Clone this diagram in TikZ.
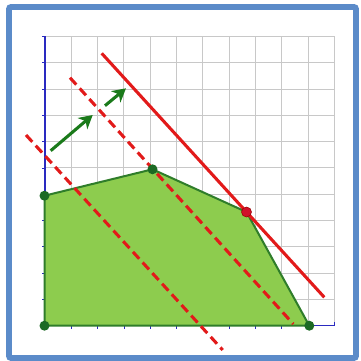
\documentclass[tikz,border=0pt]{standalone}
\usetikzlibrary{arrows.meta}
\definecolor{framebl}{HTML}{5B8BC9}
\definecolor{gridgr}{HTML}{C8C8C8}
\definecolor{axisbl}{HTML}{2A2AC0}
\definecolor{fillgr}{HTML}{8DCC4E}
\definecolor{edgegr}{HTML}{2F7D2A}
\definecolor{dotgr}{HTML}{1C6A24}
\definecolor{linered}{HTML}{E21A1A}
\definecolor{dotred}{HTML}{D0102A}
\definecolor{arrgr}{HTML}{1A7A1A}
\tikzset{
  gridline/.style={draw=gridgr, line width=0.75pt},
  axisline/.style={draw=axisbl, line width=0.9pt},
  region/.style={fill=fillgr, draw=edgegr, line width=1.5pt, line join=round},
  vdot/.style={circle, fill=dotgr, inner sep=0pt, minimum size=7.5pt},
  rdot/.style={circle, fill=dotred, draw=red!60!black, line width=0.4pt, inner sep=0pt, minimum size=7.5pt},
  objline/.style={draw=linered, line width=2.3pt},
  objdash/.style={draw=linered, line width=2.3pt, dash pattern=on 7pt off 3.8pt},
  gradarrow/.style={draw=arrgr, line width=2.3pt, -{Stealth[length=10pt,width=11pt,inset=3pt]}}
}
\begin{document}
\begin{tikzpicture}[x=0.75pt,y=-0.75pt]
\useasboundingbox (0,0) rectangle (361,361);
\fill[white] (0,0) rectangle (361,361);
% frame
\draw[framebl, line width=4.3pt, rounded corners=1.5pt] (9,7) rectangle (356,358);
% grid
\foreach \i in {0,...,11} {
  \draw[gridline] (45+\i*26.3,36.4) -- (45+\i*26.3,325.7);
  \draw[gridline] (45,325.7-\i*26.3) -- (334.3,325.7-\i*26.3);
}
% axes
\draw[axisline] (45,325.7) -- (45,36.4) -- (41.5,36.4);
\draw[axisline] (45,325.7) -- (334.3,325.7) -- (334.3,322);
\foreach \i in {1,...,10} {
  \draw[axisline, line width=0.6pt] (45,325.7-\i*26.3) -- (42,325.7-\i*26.3);
  \draw[axisline, line width=0.6pt] (45+\i*26.3,325.7) -- (45+\i*26.3,328.5);
}
% feasible region
\coordinate (O) at (44.5,325.7);
\coordinate (A) at (44.5,195.7);
\coordinate (B) at (152.5,169.3);
\coordinate (C) at (246.5,212);
\coordinate (D) at (309.3,325.7);
\draw[region] (O) -- (A) -- (B) -- (C) -- (D) -- cycle;
% objective lines
\coordinate (s1) at (101.7,53.3);
\coordinate (s2) at (324.3,297.3);
\coordinate (m1) at (70,77.7);
\coordinate (m2) at (293.3,324);
\coordinate (l1) at (26,135);
\coordinate (l2) at (222.7,350);
\draw[objdash] (l1) -- (l2);
\draw[objdash] (m1) -- (m2);
\draw[objline] (s1) -- (s2);
% vertices
\node[vdot] (vO) at (O) {};
\node[vdot] (vA) at (A) {};
\node[vdot] (vB) at (B) {};
\node[vdot] (vD) at (D) {};
\node[rdot] (vC) at (C) {};
% gradient arrows
\coordinate (g1s) at (50.7,150.7);
\coordinate (g1e) at (92.7,115);
\coordinate (g2s) at (105,105.7);
\coordinate (g2e) at (126,88.3);
\draw[gradarrow] (g1s) -- (g1e);
\draw[gradarrow] (g2s) -- (g2e);
\end{tikzpicture}
\end{document}
